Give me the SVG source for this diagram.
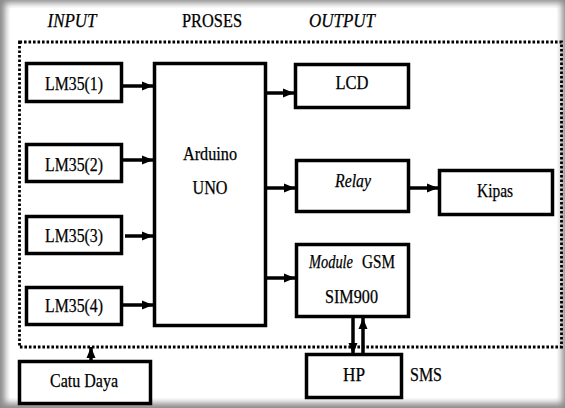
<svg xmlns="http://www.w3.org/2000/svg" width="565" height="408" viewBox="0 0 565 408">
<style>
.box{fill:#fff;stroke:#000;stroke-width:3.5}
.t{font-family:"Liberation Serif","Times New Roman",serif;font-size:18px;fill:#000;text-anchor:middle;stroke:#000;stroke-width:0.25}
.s{text-anchor:start}
.i{font-style:italic}
.c{stroke:#000;stroke-width:3.5;fill:none;marker-end:url(#ah)}
</style>
<defs>
<filter id="soft" x="-5%" y="-5%" width="110%" height="110%"><feGaussianBlur stdDeviation="3"/></filter>
<marker id="ah" markerUnits="userSpaceOnUse" markerWidth="11" markerHeight="11" viewBox="0 0 11 11" refX="11" refY="5.5" orient="auto"><path d="M0,1 L11,5.5 L0,10 Z" fill="#000"/></marker>
</defs>
<rect x="0" y="0" width="565" height="408" fill="#8a8a8a"/>
<rect x="5" y="3" width="557" height="400" fill="#fff" filter="url(#soft)"/>
<rect x="10" y="8" width="547" height="390" fill="#fff"/>
<g id="headers">
<text class="t i" x="72" y="27" textLength="49" lengthAdjust="spacingAndGlyphs">INPUT</text>
<text class="t" x="212" y="27" textLength="60" lengthAdjust="spacingAndGlyphs">PROSES</text>
<text class="t i" x="342" y="27" textLength="66" lengthAdjust="spacingAndGlyphs">OUTPUT</text>
</g>
<rect id="system-boundary" x="19.5" y="42" width="542" height="305" fill="none" stroke="#000" stroke-width="2.8" stroke-dasharray="2.6 1.9"/>
<g id="connectors">
<line class="c" x1="123" y1="86" x2="153" y2="86"/>
<line class="c" x1="123" y1="160" x2="153" y2="160"/>
<line class="c" x1="125" y1="236" x2="153" y2="236"/>
<line class="c" x1="123" y1="305" x2="153" y2="305"/>
<line class="c" x1="267" y1="93" x2="294" y2="93"/>
<line class="c" x1="267" y1="188" x2="295" y2="188"/>
<line class="c" x1="267" y1="278" x2="295" y2="278"/>
<line class="c" x1="410" y1="188" x2="438" y2="188"/>
<line class="c" x1="353" y1="318" x2="353" y2="354"/>
<line class="c" x1="363" y1="353" x2="363" y2="318"/>
<line class="c" x1="91" y1="360" x2="91" y2="347"/>
</g>
<g id="lm35-1"><rect class="box" x="26.5" y="63.5" width="95" height="38"/><text class="t" x="74" y="90" textLength="58" lengthAdjust="spacingAndGlyphs">LM35(1)</text></g>
<g id="lm35-2"><rect class="box" x="26.5" y="144.5" width="95" height="37"/><text class="t" x="74" y="171" textLength="58" lengthAdjust="spacingAndGlyphs">LM35(2)</text></g>
<g id="lm35-3"><rect class="box" x="26.5" y="216.5" width="95" height="37"/><text class="t" x="74" y="242" textLength="58" lengthAdjust="spacingAndGlyphs">LM35(3)</text></g>
<g id="lm35-4"><rect class="box" x="26.5" y="287.5" width="95" height="37"/><text class="t" x="74" y="312" textLength="58" lengthAdjust="spacingAndGlyphs">LM35(4)</text></g>
<g id="arduino"><rect class="box" x="154.5" y="63.5" width="111" height="262"/><text class="t" x="210" y="160" textLength="54" lengthAdjust="spacingAndGlyphs">Arduino</text><text class="t" x="210" y="194" textLength="35" lengthAdjust="spacingAndGlyphs">UNO</text></g>
<g id="lcd"><rect class="box" x="295.5" y="64.5" width="113" height="43"/><text class="t" x="352" y="89" textLength="33" lengthAdjust="spacingAndGlyphs">LCD</text></g>
<g id="relay"><rect class="box" x="296.5" y="160.5" width="112" height="51"/><text class="t i" x="353" y="187" textLength="36" lengthAdjust="spacingAndGlyphs">Relay</text></g>
<g id="kipas"><rect class="box" x="439.5" y="170.5" width="113" height="44"/><text class="t" x="495" y="197" textLength="36" lengthAdjust="spacingAndGlyphs">Kipas</text></g>
<g id="gsm"><rect class="box" x="296.5" y="244.5" width="112" height="72"/><text class="t i s" x="309" y="268" textLength="44" lengthAdjust="spacingAndGlyphs">Module</text><text class="t s" x="362" y="268" textLength="33" lengthAdjust="spacingAndGlyphs">GSM</text><text class="t" x="351.5" y="303" textLength="53" lengthAdjust="spacingAndGlyphs">SIM900</text></g>
<g id="catu-daya"><rect class="box" x="19.5" y="361.5" width="131" height="42"/><text class="t" x="84" y="387" textLength="68" lengthAdjust="spacingAndGlyphs">Catu Daya</text></g>
<g id="hp"><rect class="box" x="306.5" y="354.5" width="95" height="43"/><text class="t" x="354" y="381" textLength="22" lengthAdjust="spacingAndGlyphs">HP</text></g>
<text id="sms" class="t" x="426" y="381" textLength="32" lengthAdjust="spacingAndGlyphs">SMS</text>
</svg>
